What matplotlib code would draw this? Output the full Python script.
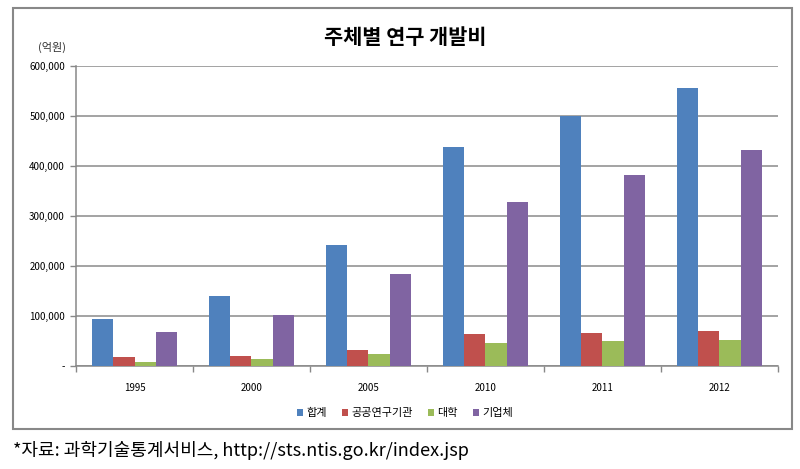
import numpy as np
import matplotlib
matplotlib.use("Agg")
import matplotlib.pyplot as plt
from matplotlib.patches import Rectangle

plt.rcParams['font.family'] = ['Noto Sans CJK KR', 'DejaVu Sans']

# 데이터 (억원)
years = ["1995", "2000", "2005", "2010", "2011", "2012"]
series_names = ["합계", "공공연구기관", "대학", "기업체"]
total = [94000, 140000, 242000, 438000, 499000, 556000]
public_inst = [18000, 20000, 32000, 64000, 67000, 70000]
university = [8000, 14000, 24000, 46000, 50000, 52000]
company = [68000, 102000, 184000, 328000, 382000, 432000]
yticks = [0, 100000, 200000, 300000, 400000, 500000, 600000]

colors = ["#4F81BD", "#C0504D", "#9BBB59", "#8064A2"]
data = [total, public_inst, university, company]

fig = plt.figure(figsize=(8, 4.69), dpi=100)
ax = fig.add_axes([76/800, 1-366/469, 702/800, 300/469])

x = np.arange(len(years))
w = 1/5.5	# 막대 폭 (간격 150%)
for i, (vals, c, name) in enumerate(zip(data, colors, series_names)):
	ax.bar(x + (i-1.5)*w, vals, width=w, color=c, label=name, zorder=3)

ax.set_xlim(-0.5, len(years)-0.5)
ax.set_ylim(0, 600000)
ax.set_yticks(yticks)
ax.set_yticklabels(["-" if v == 0 else f"{v:,}" for v in yticks], fontsize=7)
ax.set_xticks(x)
ax.set_xticklabels(years, fontsize=7)
ax.set_xticks(np.arange(-0.5, len(years)), minor=True)
ax.tick_params(axis='x', which='major', length=0, pad=12)
ax.tick_params(axis='x', which='minor', length=4, color='#888888', width=1)
ax.tick_params(axis='y', length=4, color='#888888', width=1, pad=4)
ax.grid(axis='y', color='#8a8a8a', linewidth=1.1, zorder=0)
for s in ['top', 'right']:
	ax.spines[s].set_visible(False)
for s in ['left', 'bottom']:
	ax.spines[s].set_color('#888888')
	ax.spines[s].set_linewidth(1.1)

fig.text(0.506, 1-38/469, "주체별 연구 개발비", fontsize=15, fontweight='bold',
	ha='center', va='center')
fig.text(52/800, 1-47/469, "(억원)", fontsize=8, ha='center', va='center', color='#333333')

ax.legend(loc='center', bbox_to_anchor=(405/800, 1-413/469),
	bbox_transform=fig.transFigure, ncol=4, frameon=False, fontsize=8,
	handlelength=0.6, handleheight=0.6, handletextpad=0.3, columnspacing=1.3)

fig.patches.append(Rectangle((13/800, 1-429/469), 779/800, 421/469,
	transform=fig.transFigure, fill=False, edgecolor='#888888', linewidth=1.5))

fig.text(13/800, 1-450/469, "*자료: 과학기술통계서비스, http://sts.ntis.go.kr/index.jsp",
	fontsize=13, ha='left', va='center', fontweight='light')

fig.savefig("out.png", dpi=100)
